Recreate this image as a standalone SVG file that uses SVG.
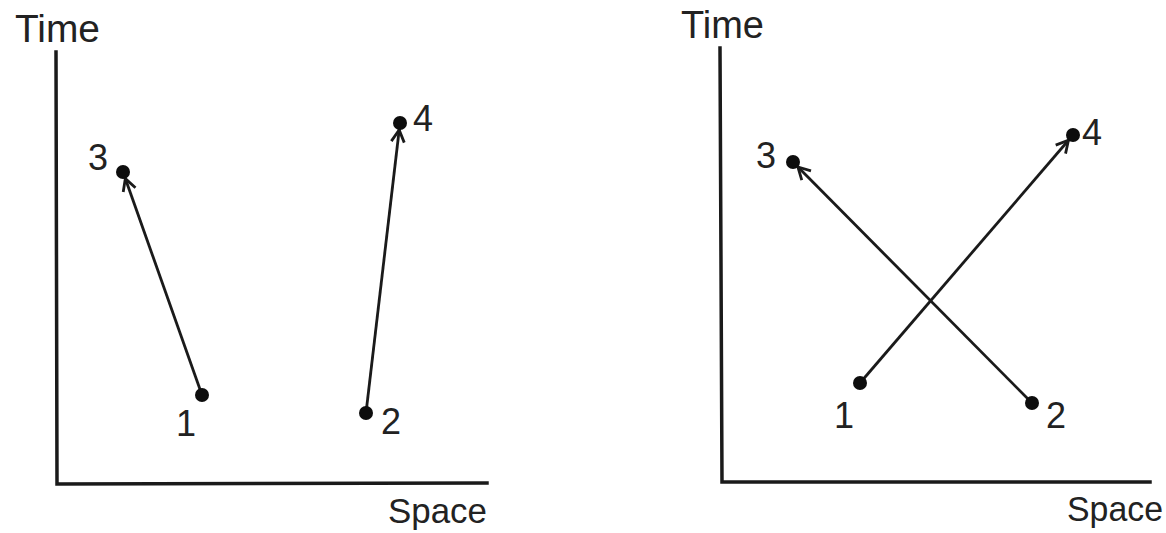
<svg xmlns="http://www.w3.org/2000/svg" width="1166" height="533" viewBox="0 0 1166 533">
  <style>
    .axis { fill: none; stroke: #1a1a1a; stroke-width: 3.5; stroke-linecap: square; stroke-linejoin: miter; }
    .conn { fill: none; stroke: #1a1a1a; stroke-width: 2.8; marker-end: url(#arrow); }
    .dot { fill: #0d0d0d; }
    .lbl { font-family: "Liberation Sans", Arial, sans-serif; font-size: 36px; fill: #222; }
    .title { font-family: "Liberation Sans", Arial, sans-serif; font-size: 38px; fill: #222; }
  </style>
  <defs>
    <marker id="arrow" markerUnits="userSpaceOnUse" viewBox="0 0 30 16" refX="19" refY="8" markerWidth="30" markerHeight="16" orient="auto" overflow="visible">
      <path d="M0,1.5 L12,8 L0,14.5" fill="none" stroke="#1a1a1a" stroke-width="2.8"/>
    </marker>
  </defs>
  <rect width="1166" height="533" fill="#ffffff"/>

  <!-- Left panel axes -->
  <g id="left-axes">
    <polyline class="axis" points="56,52 57,484 487,483"/>
    <text class="title" x="15" y="42" textLength="85" lengthAdjust="spacingAndGlyphs">Time</text>
    <text class="title" x="388" y="523" textLength="99" lengthAdjust="spacingAndGlyphs" style="font-size:35px">Space</text>
  </g>

  <!-- Right panel axes -->
  <g id="right-axes">
    <polyline class="axis" points="720,48 722,482 1150,482"/>
    <text class="title" x="681" y="38" textLength="83" lengthAdjust="spacingAndGlyphs">Time</text>
    <text class="title" x="1067" y="521" textLength="96" lengthAdjust="spacingAndGlyphs" style="font-size:35px">Space</text>
  </g>

  <!-- Connectors -->
  <g id="connectors">
    <line class="conn" x1="202" y1="395" x2="123" y2="172"/>
    <line class="conn" x1="366" y1="413" x2="400" y2="123"/>
    <line class="conn" x1="860" y1="383" x2="1073" y2="135"/>
    <line class="conn" x1="1032" y1="403" x2="793" y2="162"/>
  </g>

  <!-- Left panel nodes -->
  <g id="left-event-1">
    <circle class="dot" cx="202" cy="395" r="7"/>
    <text class="lbl" x="176" y="436">1</text>
  </g>
  <g id="left-event-2">
    <circle class="dot" cx="366" cy="413" r="7"/>
    <text class="lbl" x="381" y="434">2</text>
  </g>
  <g id="left-event-3">
    <circle class="dot" cx="123" cy="172" r="7"/>
    <text class="lbl" x="88" y="170">3</text>
  </g>
  <g id="left-event-4">
    <circle class="dot" cx="400" cy="123" r="7"/>
    <text class="lbl" x="413" y="131">4</text>
  </g>

  <!-- Right panel nodes -->
  <g id="right-event-1">
    <circle class="dot" cx="860" cy="383" r="7"/>
    <text class="lbl" x="834" y="428">1</text>
  </g>
  <g id="right-event-2">
    <circle class="dot" cx="1032" cy="403" r="7"/>
    <text class="lbl" x="1046" y="428">2</text>
  </g>
  <g id="right-event-3">
    <circle class="dot" cx="793" cy="162" r="7"/>
    <text class="lbl" x="756" y="168">3</text>
  </g>
  <g id="right-event-4">
    <circle class="dot" cx="1073" cy="135" r="7"/>
    <text class="lbl" x="1082" y="145">4</text>
  </g>
</svg>
